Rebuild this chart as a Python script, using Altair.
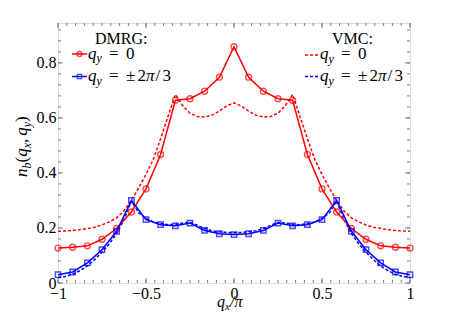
import altair as alt
import pandas as pd
import numpy as np

# ---------------- data ----------------
qx_dmrg = [-1.0, -0.917, -0.833, -0.75, -0.667, -0.583, -0.5, -0.417, -0.333, -0.25, -0.167, -0.083,
           0.0, 0.083, 0.167, 0.25, 0.333, 0.417, 0.5, 0.583, 0.667, 0.75, 0.833, 0.917, 1.0]
nb_dmrg_q0 = [0.127, 0.130, 0.135, 0.159, 0.198, 0.258, 0.342, 0.467, 0.664, 0.670, 0.697, 0.748,
              0.859, 0.748, 0.697, 0.670, 0.664, 0.467, 0.342, 0.258, 0.198, 0.159, 0.135, 0.130, 0.127]
nb_dmrg_q23 = [0.030, 0.040, 0.073, 0.121, 0.188, 0.300, 0.230, 0.212, 0.208, 0.218, 0.191, 0.179,
               0.176, 0.179, 0.191, 0.218, 0.208, 0.212, 0.230, 0.300, 0.188, 0.121, 0.073, 0.040, 0.030]

qx_vmc = [-1.0, -0.958, -0.917, -0.875, -0.833, -0.792, -0.75, -0.708, -0.667, -0.625, -0.583, -0.542,
          -0.5, -0.458, -0.417, -0.375, -0.333, -0.292, -0.25, -0.208, -0.167, -0.125, -0.083, -0.042,
          0.0, 0.042, 0.083, 0.125, 0.167, 0.208, 0.25, 0.292, 0.333, 0.375, 0.417, 0.458, 0.5,
          0.542, 0.583, 0.625, 0.667, 0.708, 0.75, 0.792, 0.833, 0.875, 0.917, 0.958, 1.0]
nb_vmc_q0 = [0.188, 0.189, 0.191, 0.194, 0.198, 0.203, 0.211, 0.222, 0.237, 0.262, 0.300, 0.345,
             0.395, 0.450, 0.525, 0.605, 0.685, 0.645, 0.617, 0.605, 0.603, 0.610, 0.625, 0.643,
             0.655, 0.643, 0.625, 0.610, 0.603, 0.605, 0.617, 0.645, 0.685, 0.605, 0.525, 0.450, 0.395,
             0.345, 0.300, 0.262, 0.237, 0.222, 0.211, 0.203, 0.198, 0.194, 0.191, 0.189, 0.188]
nb_vmc_q23 = [0.020, 0.024, 0.032, 0.045, 0.062, 0.085, 0.112, 0.143, 0.180, 0.230, 0.298, 0.255,
              0.235, 0.222, 0.216, 0.212, 0.213, 0.218, 0.220, 0.210, 0.198, 0.190, 0.186, 0.184,
              0.183, 0.184, 0.186, 0.190, 0.198, 0.210, 0.220, 0.218, 0.213, 0.212, 0.216, 0.222, 0.235,
              0.255, 0.298, 0.230, 0.180, 0.143, 0.112, 0.085, 0.062, 0.045, 0.032, 0.024, 0.020]

x_major = [-1, -0.5, 0, 0.5, 1]
x_minor = [round(v, 2) for v in np.arange(-1, 1.0001, 0.05)]
y_major = [0, 0.2, 0.4, 0.6, 0.8]
y_minor = [round(v, 2) for v in np.arange(0, 0.945, 0.04)]

# ---------------- layout ----------------
W, H = 352, 260
OX, OY = 58, 23          # screen position of the plot origin
FONT = "Liberation Serif"
GREY = "#808080"
RED = "#ff0000"
BLUE = "#0000ff"

xs = alt.Scale(domain=[-1, 1], nice=False, zero=False)
ys = alt.Scale(domain=[0, 0.945], nice=False, zero=False)

lab_expr = "datum.value == 0 ? '0' : replace(toString(datum.value), '-', '\u2212')"
xaxis = alt.Axis(values=x_major, labelExpr=lab_expr, ticks=False, domain=False, grid=False,
                 title=None, labelFont=FONT, labelFontSize=16, labelColor="black", labelPadding=2,
                 labelFlush=False)
yaxis = alt.Axis(values=y_major, labelExpr=lab_expr, ticks=False, domain=False, grid=False,
                 title=None, labelFont=FONT, labelFontSize=16, labelColor="black", labelPadding=2,
                 labelFlush=False)

df0 = pd.DataFrame({"qx": qx_dmrg, "nb": nb_dmrg_q0})
df23 = pd.DataFrame({"qx": qx_dmrg, "nb": nb_dmrg_q23})
dv0 = pd.DataFrame({"qx": qx_vmc, "nb": nb_vmc_q0})
dv23 = pd.DataFrame({"qx": qx_vmc, "nb": nb_vmc_q23})

X = alt.X("qx:Q", scale=xs, axis=xaxis)
Y = alt.Y("nb:Q", scale=ys, axis=yaxis)

layers = []
layers.append(alt.Chart(dv0).mark_line(color=RED, strokeWidth=1.5, strokeDash=[3, 2]).encode(x=X, y=Y))
layers.append(alt.Chart(dv23).mark_line(color=BLUE, strokeWidth=1.5, strokeDash=[3, 2]).encode(x=X, y=Y))
layers.append(alt.Chart(df0).mark_line(color=RED, strokeWidth=1.5).encode(x=X, y=Y))
layers.append(alt.Chart(df0).mark_point(color=RED, shape="circle", filled=False, size=35,
                                        strokeWidth=1.4).encode(x=X, y=Y))
layers.append(alt.Chart(df23).mark_line(color=BLUE, strokeWidth=1.5).encode(x=X, y=Y))
layers.append(alt.Chart(df23).mark_point(color=BLUE, shape="square", filled=False, size=28,
                                         strokeWidth=1.5).encode(x=X, y=Y))

# inward ticks on all four sides
def xticks(vals, ln):
    d = pd.DataFrame({"t": vals})
    b = alt.Chart(d).mark_rule(color=GREY, strokeWidth=1).encode(
        x=alt.X("t:Q", scale=xs), y=alt.value(H), y2=alt.value(H - ln))
    t = alt.Chart(d).mark_rule(color=GREY, strokeWidth=1).encode(
        x=alt.X("t:Q", scale=xs), y=alt.value(0), y2=alt.value(ln))
    return [b, t]

def yticks(vals, ln):
    d = pd.DataFrame({"t": vals})
    l = alt.Chart(d).mark_rule(color=GREY, strokeWidth=1).encode(
        y=alt.Y("t:Q", scale=ys), x=alt.value(0), x2=alt.value(ln))
    r = alt.Chart(d).mark_rule(color=GREY, strokeWidth=1).encode(
        y=alt.Y("t:Q", scale=ys), x=alt.value(W), x2=alt.value(W - ln))
    return [l, r]

layers += xticks(x_minor, 3) + xticks(x_major, 5) + yticks(y_minor, 3) + yticks(y_major, 5)

one = pd.DataFrame({"a": [0]})

def txt(s, sx, sy, size=16, italic=False, align="left", angle=0):
    kw = dict(font=FONT, fontSize=size, align=align, baseline="alphabetic", color="black")
    if italic:
        kw["fontStyle"] = "italic"
    if angle:
        kw["angle"] = angle
    return alt.Chart(one).mark_text(**kw).encode(
        x=alt.value(sx - OX), y=alt.value(sy - OY), text=alt.value(s))

def seg(sx1, sx2, sy, color, dash=None):
    kw = dict(color=color, strokeWidth=1.5)
    if dash:
        kw["strokeDash"] = dash
    return alt.Chart(one).mark_rule(**kw).encode(
        x=alt.value(sx1 - OX), x2=alt.value(sx2 - OX), y=alt.value(sy - OY))

def sym(sx, sy, color, shape, size):
    return alt.Chart(one).mark_point(color=color, shape=shape, filled=False, size=size,
                                     strokeWidth=1.4).encode(
        x=alt.value(sx - OX), y=alt.value(sy - OY))

def qy_head(sx, sy):
    return [txt("q", sx, sy, 17, True), txt("y", sx + 8.5, sy + 3.5, 12, True),
            txt("=", sx + 21, sy, 17)]

def lab_zero(sx, sy):
    return qy_head(sx, sy) + [txt("0", sx + 38, sy, 17)]

def lab_pi(sx, sy):
    return qy_head(sx, sy) + [txt("\u00b1", sx + 38, sy, 17), txt("2", sx + 49.5, sy, 17),
                              txt("\u03c0", sx + 58, sy, 17, True), txt("/", sx + 67.5, sy, 17),
                              txt("3", sx + 74.5, sy, 17)]

# DMRG legend
layers.append(txt("DMRG:", 95, 43.5, 16))
layers.append(seg(72, 87, 54, RED))
layers.append(sym(79.5, 54, RED, "circle", 24))
layers += lab_zero(88, 58.5)
layers.append(seg(72, 87, 76.5, BLUE))
layers.append(sym(79.5, 76.5, BLUE, "square", 18))
layers += lab_pi(88, 81)

# VMC legend
layers.append(txt("VMC:", 332, 43.5, 16))
layers.append(seg(305, 319, 55, RED, [3, 2]))
layers += lab_zero(320, 59)
layers.append(seg(305, 319, 76.5, BLUE, [3, 2]))
layers += lab_pi(320, 81)

# x title: q_x / pi
layers.append(txt("q", 217, 306.5, 16, True))
layers.append(txt("x", 225, 310, 11, True))
layers.append(txt("/\u03c0", 230, 306.5, 16, True))

# y title: n_b(q_x, q_y), rotated
BX, SX = 27, 30.5
layers.append(txt("n", BX, 177, 17, True, angle=270))
layers.append(txt("b", SX, 168.5, 12, True, angle=270))
layers.append(txt("(", BX, 162.5, 17, False, angle=270))
layers.append(txt("q", BX, 156.8, 17, True, angle=270))
layers.append(txt("x", SX, 148.3, 12, True, angle=270))
layers.append(txt(",", BX, 143, 17, False, angle=270))
layers.append(txt("q", BX, 135.8, 17, True, angle=270))
layers.append(txt("y", SX, 127.3, 12, True, angle=270))
layers.append(txt(")", BX, 122, 17, False, angle=270))

chart = alt.layer(*layers).properties(
    width=W, height=H,
    padding={"left": OX - 8, "top": OY - 8, "right": 10, "bottom": 29},
    autosize=alt.AutoSizeParams(type="none"),
).configure_view(stroke=GREY, strokeWidth=1).configure(background="white")

chart.save("out.html", embed_options={"renderer": "svg", "actions": False})
